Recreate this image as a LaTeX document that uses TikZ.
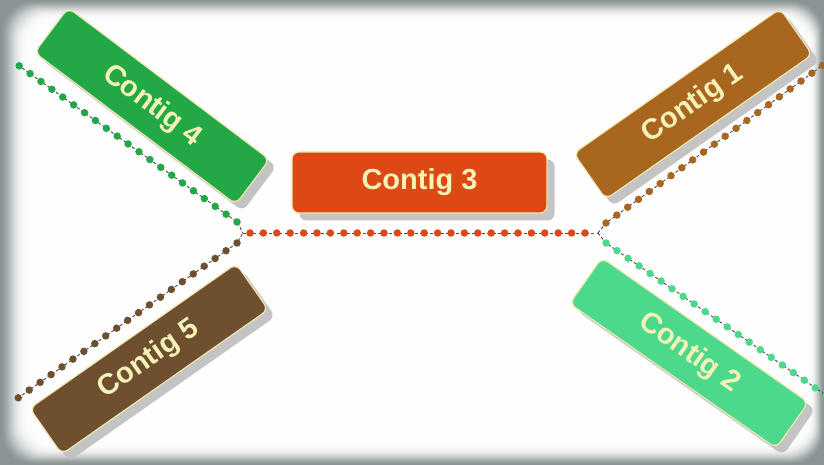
\documentclass[tikz,border=0pt]{standalone}
\usepackage{fontspec}
\setmainfont{Liberation Sans}
\definecolor{bggray}{HTML}{8A9494}
\definecolor{cfour}{HTML}{22A847}
\definecolor{cone}{HTML}{A8661F}
\definecolor{cfive}{HTML}{6E5030}
\definecolor{ctwo}{HTML}{4CD98B}
\definecolor{cthree}{HTML}{DD4814}
\definecolor{txt}{HTML}{F5F2B8}
\definecolor{boxline}{HTML}{EFE8B0}
\definecolor{shadowgray}{HTML}{C4C4C4}
\definecolor{linegray}{HTML}{4A4A4A}
\tikzset{
  cbox/.style={draw=boxline, line width=1.2pt, rounded corners=7pt,
    minimum width=252pt, minimum height=56pt, text=txt, inner sep=0pt,
    font=\fontsize{29}{31}\selectfont\bfseries},
  cshadow/.style={fill=shadowgray, rounded corners=7pt,
    minimum width=252pt, minimum height=56pt, inner sep=0pt},
  dotline/.style={line width=7.5pt, line cap=round, dash pattern=on 0pt off 13.4pt},
  thinline/.style={draw=linegray, line width=0.9pt, dash pattern=on 3pt off 2.2pt},
}
\begin{document}
\begin{tikzpicture}[x=1pt,y=1pt]
\useasboundingbox (0,0) rectangle (824,465);
\clip (0,0) rectangle (824,465);
% background vignette
\fill[bggray] (0,0) rectangle (824,465);
\foreach \i in {0,...,54}{
  \pgfmathsetmacro{\op}{0.03+0.012*\i}
  \fill[white, opacity=\op, rounded corners=30pt]
    (2+1.1*\i, 1+0.8*\i) rectangle (823-0.6*\i, 464-0.8*\i);
}
% shadows
\node[cshadow, rotate=-37] (s4) at (159,352) {};
\node[cshadow, rotate=35] (s1) at (700,354) {};
\node[cshadow, rotate=35] (s5) at (156,99) {};
\node[cshadow, rotate=-35] (s2) at (696,105) {};
\node[cshadow, minimum width=255pt, minimum height=61pt] (s3) at (427,275) {};
% connector coordinates
\coordinate (L) at (243,232);
\coordinate (R) at (598,232);
\coordinate (g4a) at (18,400);
\coordinate (g4b) at (237,243);
\coordinate (b5a) at (18,67);
\coordinate (b5b) at (237,222);
\coordinate (b1a) at (606,242);
\coordinate (b1b) at (830,405);
\coordinate (g2a) at (606,222);
\coordinate (g2b) at (830,67);
% thin dashed lines
\draw[thinline] (g4a) -- (g4b) -- (L);
\draw[thinline] (b5a) -- (b5b) -- (L);
\draw[thinline] (L) -- (R);
\draw[thinline] (R) -- (b1a) -- (b1b);
\draw[thinline] (R) -- (g2a) -- (g2b);
% dots
\draw[dotline, cfour] (g4b) -- (g4a);
\draw[dotline, cfive] (b5b) -- (b5a);
\draw[dotline, cthree] (250,232) -- (594,232);
\draw[dotline, cone] (b1a) -- (b1b);
\draw[dotline, ctwo] (g2a) -- (g2b);
% boxes
\node[cbox, fill=cfour, rotate=-37] (c4) at (152,359) {Contig 4};
\node[cbox, fill=cone, rotate=35] (c1) at (693,361) {Contig 1};
\node[cbox, fill=cfive, rotate=35] (c5) at (149,106) {Contig 5};
\node[cbox, fill=ctwo, rotate=-35] (c2) at (689,112) {Contig 2};
\node[cbox, fill=cthree, minimum width=255pt, minimum height=61pt] (c3) at (419.5,282.5) {Contig 3};
\end{tikzpicture}
\end{document}
